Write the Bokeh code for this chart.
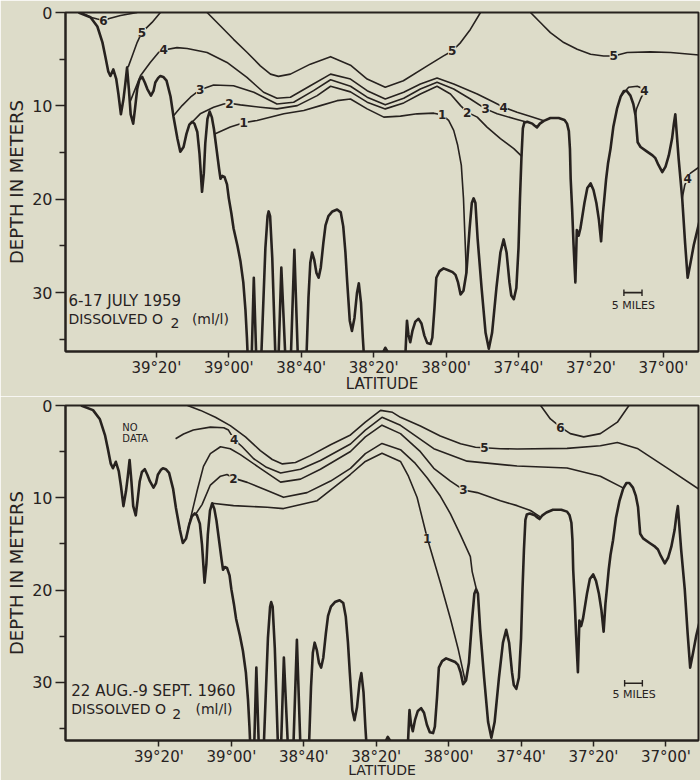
from bokeh.plotting import figure
from bokeh.models import Range1d, FixedTicker, LabelSet, ColumnDataSource
from bokeh.layouts import column
from bokeh.embed import file_html
from bokeh.resources import INLINE
from bokeh.core.properties import value

BG = "#dddcc9"
INK = "#27221f"
FONT = "DejaVu Sans"

# latitude expressed in minutes of arc (39°20' = 39*60+20 = 2360), depth in meters
TICK_LAT = [2360, 2340, 2320, 2300, 2280, 2260, 2240, 2220]
TICK_LABELS = ["39°20'", "39°00'", "38°40'", "38°20'", "38°00'", "37°40'", "37°20'", "37°00'"]
DEPTH_TICKS = [0, 10, 20, 30]
DEPTH_MINOR = [5, 15, 25, 35]

# bottom profile (same transect in both surveys)
BATHY_LAT = [2381.5, 2378.2, 2376.3, 2374.9, 2374.1, 2373.3, 2372.7, 2371.9, 2371.1, 2370.5,
             2369.8, 2369.1, 2368.6, 2368.1, 2367.6, 2367.1, 2366.4, 2365.9, 2365.3, 2364.7,
             2363.9, 2363.2, 2362.5, 2361.5, 2360.8, 2360.3, 2359.5, 2358.9, 2358.1, 2357.2,
             2356.1, 2355.3, 2354.2, 2353.4, 2352.5, 2351.7, 2350.9, 2350.1, 2349.5, 2348.7,
             2348.1, 2347.4, 2346.9, 2346.5, 2345.9, 2345.3, 2344.7, 2344.1, 2343.4, 2342.7,
             2342.3, 2341.8, 2341.2, 2340.5, 2340.0, 2339.3, 2338.7, 2337.6, 2336.8, 2336.0,
             2335.4, 2335.0, 2334.6,
             2333.8, 2333.1, 2332.3,
             2331.2, 2329.9, 2329.3, 2329.0, 2328.6, 2328.0, 2327.0,
             2326.4, 2325.5, 2324.2,
             2323.0, 2321.9, 2320.8,
             2318.7, 2318.0, 2317.5, 2317.0, 2316.4, 2315.8, 2315.2, 2314.6, 2313.9, 2313.3,
             2312.5, 2311.4, 2310.1, 2309.1, 2308.4, 2307.8, 2307.3, 2306.6, 2306.0, 2305.3,
             2304.6, 2304.1, 2303.5, 2303.0, 2302.4,
             2297.7, 2297.3, 2296.8, 2296.2, 2295.8,
             2291.5, 2291.2, 2290.9, 2290.8, 2290.4, 2289.9, 2289.3, 2288.5, 2287.6, 2286.8,
             2286.0, 2285.2, 2284.3, 2283.8, 2283.2, 2282.7, 2281.8, 2280.7, 2279.4, 2278.2,
             2277.4, 2276.7, 2276.0, 2275.2, 2274.4, 2273.5, 2272.9, 2272.4, 2271.9, 2271.3,
             2270.2, 2269.1, 2268.2, 2267.3, 2266.1, 2265.0, 2264.1, 2263.3, 2262.5, 2262.0,
             2261.3, 2260.6, 2260.0, 2259.6, 2259.2, 2258.8, 2258.4, 2257.6, 2256.2, 2255.6,
             2254.9, 2254.1, 2253.0, 2251.2, 2248.9, 2247.3, 2246.6, 2246.1, 2245.8, 2245.6,
             2245.2, 2244.8, 2244.3, 2243.9, 2243.4, 2242.9, 2241.8, 2241.0, 2240.1, 2239.3,
             2238.5, 2237.8, 2237.2, 2236.7, 2236.3, 2235.8, 2235.3, 2234.6, 2233.8, 2232.8,
             2231.8, 2230.9, 2230.1, 2229.1, 2228.3, 2227.7, 2227.1, 2226.3, 2224.5, 2223.0,
             2222.2, 2221.4, 2220.3, 2219.4, 2218.5, 2217.6, 2217.1, 2216.7, 2216.3, 2215.8,
             2214.8, 2214.0, 2213.3, 2212.5, 2211.6, 2209.8]
BATHY_DEPTH = [0.0, 0.5, 1.5, 3.2, 4.7, 6.3, 6.8, 6.1, 7.1, 8.7,
               10.9, 9.3, 7.7, 5.9, 8.2, 10.9, 11.9, 10.3, 8.2, 7.2,
               6.9, 7.5, 8.2, 8.9, 8.4, 7.5, 7.0, 6.8, 6.9, 7.3,
               9.0, 11.1, 13.5, 14.9, 14.4, 13.0, 12.0, 11.7, 11.9, 12.8,
               15.1, 19.2, 17.2, 14.0, 11.4, 10.6, 11.2, 12.5, 14.6, 16.7,
               17.8, 17.5, 17.6, 18.4, 19.9, 21.5, 23.1, 25.0, 26.6, 28.9,
               31.9, 34.8, 38.5,
               38.5, 28.4, 38.5,
               38.5, 25.2, 21.8, 21.3, 21.8, 26.3, 38.5,
               38.5, 27.3, 38.5,
               38.5, 25.4, 38.5,
               38.5, 30.5, 26.8, 25.7, 26.5, 27.9, 28.4, 27.3, 24.7, 22.8,
               21.8, 21.3, 21.1, 21.4, 22.9, 25.7, 28.9, 33.0, 34.1, 32.7,
               30.0, 29.0, 31.1, 34.8, 38.5,
               38.5, 36.3, 35.9, 36.3, 38.5,
               38.5, 36.3, 33.7, 33.0, 34.5, 35.3, 34.1, 33.1, 32.8, 33.3,
               34.6, 35.4, 35.5, 34.8, 31.6, 28.4, 27.7, 27.4, 27.6, 27.8,
               28.1, 28.9, 30.2, 29.8, 27.9, 23.1, 20.4, 19.9, 20.4, 24.2,
               29.5, 34.3, 36.0, 34.3, 29.5, 25.7, 24.3, 25.7, 28.9, 30.3,
               30.7, 29.5, 25.2, 19.9, 15.6, 12.4, 11.8, 11.7, 11.9, 12.1,
               12.3, 11.9, 11.6, 11.3, 11.3, 11.5, 11.9, 12.7, 14.6, 17.8,
               21.0, 24.9, 28.9, 23.3, 23.9, 23.1, 20.4, 18.8, 18.3, 19.0,
               20.4, 22.2, 24.5, 21.5, 19.9, 17.8, 16.2, 14.6, 12.2, 10.3,
               9.0, 8.4, 8.4, 8.9, 9.8, 11.0, 13.9, 14.4, 14.9, 15.3,
               15.6, 16.3, 17.1, 16.5, 15.3, 13.5, 11.9, 10.9, 13.0, 15.6,
               19.9, 24.7, 28.4, 26.8, 24.9, 22.0]

# ---- 6-17 July 1959 isopleths (ml/l) ----
C59_6_LAT = [2381.0, 2379.3, 2378.2, 2376.3, 2374.6, 2373.0, 2369.9, 2365.3]
C59_6_DEPTH = [0, 0.3, 0.5, 0.7, 0.85, 0.64, 0.32, 0]
C59_5A_LAT = [2358.9, 2361.2, 2364.0, 2365.3, 2366.7, 2367.7, 2368.1]
C59_5A_DEPTH = [0, 1.06, 2.13, 3.19, 4.68, 5.74, 5.9]
C59_5B_LAT = [2346.0, 2342.3, 2338.7, 2335.0, 2331.3, 2328.5, 2326.3, 2323.0, 2317.5, 2311.9,
              2306.4, 2301.8, 2296.8, 2291.8, 2285.2, 2280.7, 2278.3, 2276.0, 2273.3, 2270.5]
C59_5B_DEPTH = [0, 1.45, 2.87, 4.26, 5.71, 6.6, 6.84, 6.6, 5.53, 4.73,
                5.64, 7.13, 8.01, 7.31, 5.71, 4.65, 4.12, 3.22, 1.81, 0]
C59_5C_LAT = [2256.7, 2253.9, 2251.2, 2247.5, 2243.8, 2240.1, 2236.5, 2233.7, 2230.0, 2223.6, 2218.0, 2209.8]
C59_5C_DEPTH = [0, 1.1, 2.16, 3.22, 3.94, 4.47, 4.65, 4.65, 4.29, 4.22, 4.29, 4.57]
C59_4A_LAT = [2367.3, 2364.4, 2361.7, 2359.4, 2358.0, 2354.3, 2351.5, 2346.0, 2340.5, 2335.0,
              2330.4, 2326.7, 2323.0, 2317.5, 2311.9, 2306.4, 2301.8, 2296.8, 2291.7, 2287.1,
              2282.5, 2277.9, 2271.4, 2266.8, 2264.1, 2260.4, 2256.2, 2253.0]
C59_4A_DEPTH = [9.6, 6.78, 5.35, 4.29, 4.01, 3.76, 3.86, 4.29, 5.35, 6.95,
                8.54, 9.18, 9.07, 7.84, 6.6, 7.13, 8.37, 9.26, 8.54, 7.66,
                7.02, 7.66, 8.72, 9.61, 10.14, 10.67, 11.2, 11.6]
C59_4B_LAT = [2231.8, 2229.6, 2227.2, 2225.9, 2225.2, 2226.3, 2227.4, 2227.7]
C59_4B_DEPTH = [9.0, 8.01, 7.9, 8.12, 8.4, 9.26, 10.3, 11.0]
C59_4C_LAT = [2214.8, 2214.1, 2213.3, 2212.5, 2210.3]
C59_4C_DEPTH = [19.9, 18.5, 17.77, 17.2, 16.6]
C59_3_LAT = [2355.2, 2352.9, 2350.6, 2347.9, 2344.2, 2338.7, 2333.1, 2326.7, 2322.1, 2316.6,
             2311.9, 2306.4, 2301.8, 2296.8, 2291.7, 2287.1, 2282.5, 2277.9, 2273.3, 2269.1,
             2265.9, 2260.4, 2257.6]
C59_3_DEPTH = [11.03, 9.97, 9.07, 8.27, 7.77, 7.84, 8.54, 9.79, 9.61, 8.37,
               7.2, 7.9, 9.07, 9.89, 9.18, 8.19, 7.48, 8.19, 9.26, 10.32,
               10.85, 11.46, 11.75]
C59_2_LAT = [2350.1, 2347.9, 2344.2, 2341.4, 2339.8, 2336.8, 2331.3, 2326.7, 2321.1, 2315.6,
             2311.9, 2306.4, 2301.8, 2296.8, 2291.7, 2287.1, 2282.5, 2278.8, 2276.0, 2274.2,
             2271.4, 2268.7, 2265.0, 2261.3, 2259.1]
C59_2_DEPTH = [11.73, 10.85, 10.14, 9.79, 9.71, 9.89, 10.14, 10.32, 9.97, 8.9,
               7.9, 8.5, 9.6, 10.32, 9.68, 8.72, 7.9, 8.72, 9.97, 10.67,
               11.2, 12.27, 13.51, 14.57, 15.4]
C59_1_LAT = [2343.9, 2339.6, 2335.9, 2332.2, 2324.8, 2319.3, 2314.7, 2310.1, 2306.4, 2301.8,
             2297.2, 2292.6, 2288.0, 2283.4, 2281.1, 2279.3, 2277.9, 2276.8, 2275.8, 2275.2,
             2274.8, 2274.4]
C59_1_DEPTH = [13.0, 12.27, 11.81, 11.56, 10.85, 10.5, 9.97, 9.44, 9.26, 10.32,
               11.2, 11.1, 10.85, 10.78, 10.96, 11.56, 12.62, 14.22, 16.34, 19.9,
               24.0, 27.9]
LAB59_LAT = [2374.6, 2364.0, 2358.0, 2347.9, 2339.8, 2335.9, 2278.3, 2281.1, 2274.2, 2269.1,
             2264.1, 2233.7, 2225.2, 2213.3]
LAB59_DEPTH = [0.85, 2.13, 4.01, 8.27, 9.71, 11.81, 4.12, 10.96, 10.67, 10.32,
               10.14, 4.65, 8.4, 17.77]
LAB59_TEXT = ["6", "5", "4", "3", "2", "1", "5", "1", "2", "3", "4", "5", "4", "4"]

# ---- 22 Aug - 9 Sept 1960 isopleths (ml/l) ----
C60_6_LAT = [2254.6, 2251.9, 2249.1, 2246.4, 2242.7, 2238.1, 2233.4, 2230.2]
C60_6_DEPTH = [0, 1.46, 2.34, 3.05, 3.40, 3.05, 1.81, 0]
C60_5_LAT = [2352.1, 2348.5, 2344.4, 2340.3, 2336.1, 2332.0, 2328.7, 2325.9, 2322.3, 2318.2,
             2312.6, 2307.1, 2303.0, 2298.8, 2295.5, 2293.3, 2287.8, 2282.3, 2276.7, 2272.6,
             2270.1, 2265.7, 2261.1, 2247.3, 2238.1, 2233.4, 2227.9, 2219.6, 2210.4]
C60_5_DEPTH = [0, 0.53, 1.28, 2.18, 3.40, 4.89, 5.85, 6.33, 6.17, 5.43,
               4.26, 3.19, 1.81, 0.53, 0.74, 1.28, 2.23, 3.30, 4.15, 4.52,
               4.57, 4.68, 4.71, 4.65, 4.36, 4.01, 4.65, 6.78, 9.2]
C60_4_LAT = [2355.4, 2353.2, 2350.5, 2345.8, 2342.1, 2340.8, 2339.2, 2337.0, 2333.9, 2330.3,
             2326.4, 2320.9, 2315.4, 2307.1, 2303.0, 2298.4, 2293.3, 2284.1, 2274.9, 2261.1,
             2247.3, 2238.1, 2231.7]
C60_4_DEPTH = [3.6, 3.09, 2.66, 2.34, 2.41, 2.66, 3.69, 4.47, 5.74, 6.7,
               7.31, 6.91, 5.96, 4.17, 2.66, 1.28, 2.15, 4.68, 6.03, 6.56,
               6.78, 7.66, 8.95]
C60_3_LAT = [2351.9, 2350.5, 2349.4, 2347.7, 2345.8, 2343.0, 2340.3, 2337.5, 2332.0, 2326.4,
             2320.9, 2315.4, 2307.1, 2303.0, 2298.4, 2293.3, 2287.8, 2284.1, 2279.5, 2275.9,
             2272.1, 2265.7, 2261.1, 2257.4, 2254.6]
C60_3_DEPTH = [13.3, 10.96, 9.15, 6.6, 5.21, 4.47, 4.68, 5.32, 6.81, 8.3,
               7.98, 6.91, 4.98, 3.4, 2.13, 3.05, 5.0, 6.81, 8.19, 9.15,
               9.44, 10.32, 10.85, 11.38, 12.1]
C60_2_LAT = [2349.9, 2348.1, 2345.8, 2343.0, 2341.2, 2339.4, 2335.6, 2330.1, 2325.6, 2319.1,
             2312.6, 2307.1, 2303.0, 2298.4, 2293.3, 2289.2, 2285.9, 2282.3, 2279.5, 2276.7,
             2274.0, 2273.5, 2272.4]
C60_2_DEPTH = [11.8, 10.74, 8.62, 7.66, 7.48, 7.87, 8.33, 9.2, 9.95, 9.44,
               8.19, 6.81, 5.21, 4.11, 4.79, 6.28, 7.85, 9.81, 11.74, 14.04,
               16.38, 18.0, 19.8]
C60_1_LAT = [2345.3, 2339.4, 2330.1, 2325.6, 2316.3, 2307.1, 2303.0, 2298.4, 2293.3, 2291.1,
             2288.7, 2285.9, 2282.3, 2279.5, 2277.3, 2275.4]
C60_1_DEPTH = [10.6, 10.85, 11.03, 11.17, 10.32, 7.45, 6.06, 5.18, 6.06, 7.66,
               9.97, 14.39, 19.18, 23.1, 26.5, 29.9]
LAB60_LAT = [2339.2, 2339.4, 2270.1, 2275.9, 2249.1, 2285.9]
LAB60_DEPTH = [3.69, 7.87, 4.57, 9.15, 2.34, 14.39]
LAB60_TEXT = ["4", "2", "5", "3", "6", "1"]
NODATA_LAT = [2370.1, 2370.1]
NODATA_DEPTH = [2.41, 3.6]
NODATA_TEXT = ["NO", "DATA"]

# panel notes
NOTE59_LAT = [2384.3, 2384.3, 2356.1, 2350.2]
NOTE59_DEPTH = [30.85, 32.84, 33.3, 32.84]
NOTE59_TEXT = ["6-17 JULY 1959", "DISSOLVED O", "2", "(ml/l)"]
NOTE60_LAT = [2384.2, 2384.2, 2356.3, 2349.9]
NOTE60_DEPTH = [30.96, 32.84, 33.4, 32.84]
NOTE60_TEXT = ["22 AUG.-9 SEPT. 1960", "DISSOLVED O", "2", "(ml/l)"]

# 5-mile scale bar
BAR59_LAT = [2230.9, 2225.9]
BAR59_DEPTH = 30.0
BAR59_TEXT_LAT = 2228.3
BAR59_TEXT_DEPTH = 31.35
BAR60_LAT = [2231.4, 2226.5]
BAR60_DEPTH = 30.1
BAR60_TEXT_LAT = 2228.8
BAR60_TEXT_DEPTH = 31.3

DEPTH_MAX = 36.3


def make_panel(x_start, x_end, height, b_top, b_bottom, label_size, label_standoff):
    p = figure(width=700, height=height,
               x_range=Range1d(x_start, x_end), y_range=Range1d(DEPTH_MAX, 0),
               output_backend="svg", toolbar_location=None,
               min_border_left=65, min_border_right=2,
               min_border_top=b_top, min_border_bottom=b_bottom,
               background_fill_color=BG, border_fill_color=BG)
    p.grid.visible = False
    p.outline_line_color = INK
    p.outline_line_width = 2
    xa = p.xaxis[0]
    xa.ticker = FixedTicker(ticks=TICK_LAT)
    xa.major_label_overrides = {t: l for t, l in zip(TICK_LAT, TICK_LABELS)}
    xa.axis_line_color = INK
    xa.axis_line_width = 2
    xa.major_tick_in = 0
    xa.major_tick_out = 6
    xa.major_tick_line_color = INK
    xa.major_tick_line_width = 1.5
    xa.minor_tick_line_color = None
    xa.major_label_text_font = FONT
    xa.major_label_text_font_size = "15px"
    xa.major_label_text_color = INK
    xa.major_label_standoff = 1
    xa.axis_label = "LATITUDE"
    xa.axis_label_text_font = FONT
    xa.axis_label_text_font_size = label_size
    xa.axis_label_text_font_style = "normal"
    xa.axis_label_text_color = INK
    xa.axis_label_standoff = label_standoff

    ya = p.yaxis[0]
    ya.ticker = FixedTicker(ticks=DEPTH_TICKS, minor_ticks=DEPTH_MINOR)
    ya.axis_line_color = INK
    ya.axis_line_width = 2
    ya.major_tick_in = 0
    ya.major_tick_out = 10
    ya.minor_tick_in = 0
    ya.minor_tick_out = 6
    ya.major_tick_line_color = INK
    ya.minor_tick_line_color = INK
    ya.major_tick_line_width = 1.5
    ya.minor_tick_line_width = 1.5
    ya.major_label_text_font = FONT
    ya.major_label_text_font_size = "16px"
    ya.major_label_text_color = INK
    ya.major_label_standoff = 3
    ya.axis_label = "DEPTH IN METERS"
    ya.axis_label_text_font = FONT
    ya.axis_label_text_font_size = "18px"
    ya.axis_label_text_font_style = "normal"
    ya.axis_label_text_color = INK
    ya.axis_label_standoff = 2

    p.line(BATHY_LAT, BATHY_DEPTH, line_color=INK, line_width=2.6, line_join="round")
    return p


def add_contours(p, lines):
    for lat, dep in lines:
        p.line(lat, dep, line_color=INK, line_width=1.6, line_join="round")


def add_labels(p, lat, dep, txt, size="12px"):
    src = ColumnDataSource(dict(x=lat, y=dep, t=txt))
    p.add_layout(LabelSet(x="x", y="y", text="t", source=src,
                          text_align="center", text_baseline="middle",
                          text_font=value(FONT), text_font_size=size,
                          text_font_style="bold", text_color=INK,
                          background_fill_color=BG))


def add_notes(p, lat, dep, txt):
    p.text(lat[:1], dep[:1], text=txt[:1], text_font=value(FONT), text_font_size="15px",
           text_align="left", text_baseline="middle", text_color=INK)
    p.text(lat[1:], dep[1:], text=txt[1:], text_font=value(FONT), text_font_size="14px",
           text_align="left", text_baseline="middle", text_color=INK)


def add_bar(p, lat, dep, tlat, tdep):
    p.segment(x0=[lat[0]], y0=[dep], x1=[lat[1]], y1=[dep], line_color=INK, line_width=1.6)
    p.segment(x0=lat, y0=[dep - 0.35, dep - 0.35], x1=lat, y1=[dep + 0.35, dep + 0.35],
              line_color=INK, line_width=1.4)
    p.text([tlat], [tdep], text=["5 MILES"], text_font=value(FONT), text_font_size="11px",
           text_align="center", text_baseline="middle", text_color=INK)


# top panel: 1959
p1 = make_panel(2385.1, 2210.3, 396, 12, 45, "15px", -5)
add_contours(p1, [(C59_6_LAT, C59_6_DEPTH), (C59_5A_LAT, C59_5A_DEPTH),
                  (C59_5B_LAT, C59_5B_DEPTH), (C59_5C_LAT, C59_5C_DEPTH),
                  (C59_4A_LAT, C59_4A_DEPTH), (C59_4B_LAT, C59_4B_DEPTH),
                  (C59_4C_LAT, C59_4C_DEPTH), (C59_3_LAT, C59_3_DEPTH),
                  (C59_2_LAT, C59_2_DEPTH), (C59_1_LAT, C59_1_DEPTH)])
add_labels(p1, LAB59_LAT, LAB59_DEPTH, LAB59_TEXT)
add_notes(p1, NOTE59_LAT, NOTE59_DEPTH, NOTE59_TEXT)
add_bar(p1, BAR59_LAT, BAR59_DEPTH, BAR59_TEXT_LAT, BAR59_TEXT_DEPTH)

# bottom panel: 1960
p2 = make_panel(2385.8, 2211.0, 384, 9, 38, "14px", -7)
add_contours(p2, [(C60_6_LAT, C60_6_DEPTH), (C60_5_LAT, C60_5_DEPTH),
                  (C60_4_LAT, C60_4_DEPTH), (C60_3_LAT, C60_3_DEPTH),
                  (C60_2_LAT, C60_2_DEPTH), (C60_1_LAT, C60_1_DEPTH)])
add_labels(p2, LAB60_LAT, LAB60_DEPTH, LAB60_TEXT)
p2.text(NODATA_LAT, NODATA_DEPTH, text=NODATA_TEXT, text_font=value(FONT),
        text_font_size="10px", text_align="left", text_baseline="middle", text_color=INK)
add_notes(p2, NOTE60_LAT, NOTE60_DEPTH, NOTE60_TEXT)
add_bar(p2, BAR60_LAT, BAR60_DEPTH, BAR60_TEXT_LAT, BAR60_TEXT_DEPTH)

layout = column(p1, p2, spacing=0)
open("out.html", "w").write(file_html(layout, INLINE))
